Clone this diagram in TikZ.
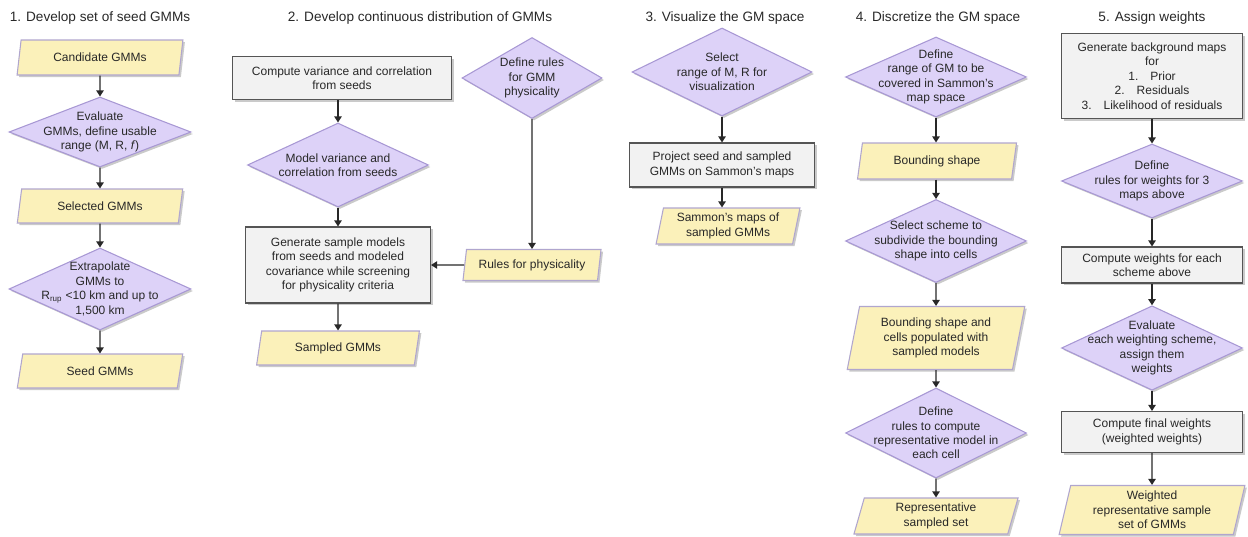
\documentclass[tikz,border=0pt]{standalone}
\usepackage{fontspec}
\setmainfont{Liberation Sans}
\usetikzlibrary{arrows.meta,shapes.geometric,shadows}
\definecolor{datafill}{RGB}{251,241,186}
\definecolor{dataline}{RGB}{176,166,206}
\definecolor{decfill}{RGB}{221,210,248}
\definecolor{decline}{RGB}{168,152,212}
\definecolor{procfill}{RGB}{242,242,242}
\definecolor{procline}{RGB}{85,85,85}
\definecolor{ink}{RGB}{40,40,40}

\begin{document}
\begin{tikzpicture}[x=.75pt,y=-.75pt,
  every node/.style={text=ink,font=\fontsize{9}{10.8}\selectfont,align=center},
  sz/.style 2 args={minimum width=#1*.75pt,minimum height=#2*.75pt},
  shadowed/.style={drop shadow={shadow xshift=1.5pt,shadow yshift=-1.5pt,opacity=.35,fill=black!60}},
  data/.style={trapezium,trapezium left angle=78,trapezium right angle=102,trapezium stretches=true,draw=dataline,fill=datafill,line width=.8pt,shadowed,inner sep=1pt},
  decision/.style={diamond,draw=decline,fill=decfill,line width=.8pt,shadowed,inner xsep=-25pt,inner ysep=-12pt},
  process/.style={rectangle,draw=procline,fill=procfill,line width=.8pt,shadowed},
  title/.style={font=\fontsize{10.2}{12}\selectfont,text=ink},
  arr/.style={-{Triangle[length=4.5pt,width=5.5pt]},line width=.9pt,draw=ink}]
\useasboundingbox (0,0) rectangle (1248,536);
% titles
\node[title] (t1) at (100,18) {1. Develop set of seed GMMs};
\node[title] (t2) at (420,18) {2. Develop continuous distribution of GMMs};
\node[title] (t3) at (725,18) {3. Visualize the GM space};
\node[title] (t4) at (938,18) {4. Discretize the GM space};
\node[title] (t5) at (1152,18) {5. Assign weights};
% 1
\node[data,sz={166}{35}] (cand) at (100,57.5) {Candidate GMMs};
\node[decision,sz={182}{70}] (evalgmm) at (100,132) {Evaluate\\GMMs, define usable\\range (M, R, \textit{f})};
\node[data,sz={166}{34}] (selgmm) at (100,206) {Selected GMMs};
\node[decision,sz={182}{82}] (extrap) at (100,289) {Extrapolate\\GMMs to\\R\textsubscript{rup} <10 km and up to\\1,500 km};
\node[data,sz={166}{34}] (seedgmm) at (100,371) {Seed GMMs};
\draw[arr](cand)--(evalgmm);\draw[arr](evalgmm)--(selgmm);\draw[arr](selgmm)--(extrap);\draw[arr](extrap)--(seedgmm);
% 2
\node[process,sz={219}{43}] (compvar) at (342,78) {Compute variance and correlation\\from seeds};
\node[decision,sz={181}{84}] (modvar) at (338,165) {Model variance and\\correlation from seeds};
\node[process,sz={185}{76}] (gensamp) at (338,265) {Generate sample models\\from seeds and modeled\\covariance while screening\\for physicality criteria};
\node[data,sz={164}{34}] (sampgmm) at (338,348) {Sampled GMMs};
\node[decision,sz={140}{81}] (physrule) at (532,78) {Define rules\\for GMM\\physicality};
\node[data,sz={139}{31}] (physdata) at (532,265) {Rules for physicality};
\draw[arr](compvar.south-|modvar)--(modvar);\draw[arr](modvar)--(gensamp);\draw[arr](gensamp)--(sampgmm);
\draw[arr](physrule)--(physdata);\draw[arr](physdata)--(gensamp);
% 3
\node[decision,sz={180}{88}] (selrange) at (722,72) {Select\\range of M, R for\\visualization};
\node[process,sz={185}{44}] (project) at (722,165) {Project seed and sampled\\GMMs on Sammon’s maps};
\node[data,sz={145}{36}] (sammaps) at (728,226) {Sammon’s maps of\\sampled GMMs};
\draw[arr](selrange)--(project);\draw[arr](project)--(project.south|-sammaps.north);
% 4
\node[decision,sz={181}{80}] (gmrange) at (936,77) {Define\\range of GM to be\\covered in Sammon’s\\map space};
\node[data,sz={160}{36}] (bshape) at (937,161) {Bounding shape};
\node[decision,sz={181}{83}] (scheme) at (936,241) {Select scheme to\\subdivide the bounding\\shape into cells};
\node[data,sz={179}{63}] (cells) at (936,338) {Bounding shape and\\cells populated with\\sampled models};
\node[decision,sz={181}{90}] (reprule) at (936,433) {Define\\rules to compute\\representative model in\\each cell};
\node[data,sz={165}{36}] (reprset) at (936,516) {Representative\\sampled set};
\draw[arr](gmrange)--(gmrange|-bshape.north);\draw[arr](gmrange|-bshape.south)--(scheme);\draw[arr](scheme)--(cells);
\draw[arr](cells)--(reprule);\draw[arr](reprule)--(reprset);
% 5
\node[process,sz={181}{85}] (bgmaps) at (1152,76) {Generate background maps\\for\\1.\quad Prior\\2.\quad Residuals\\3.\quad Likelihood of residuals};
\node[decision,sz={181}{74}] (wrule) at (1152,181) {Define\\rules for weights for 3\\maps above};
\node[process,sz={181}{36}] (compw) at (1152,265) {Compute weights for each\\scheme above};
\node[decision,sz={181}{83}] (evalw) at (1152,348) {Evaluate\\each weighting scheme,\\assign them\\weights};
\node[process,sz={181}{41}] (finalw) at (1152,432) {Compute final weights\\(weighted weights)};
\node[data,sz={186}{49}] (wset) at (1152,510) {Weighted\\representative sample\\set of GMMs};
\draw[arr](bgmaps)--(wrule);\draw[arr](wrule)--(compw);\draw[arr](compw)--(evalw);\draw[arr](evalw)--(finalw);\draw[arr](finalw)--(wset);
\end{tikzpicture}
\end{document}
